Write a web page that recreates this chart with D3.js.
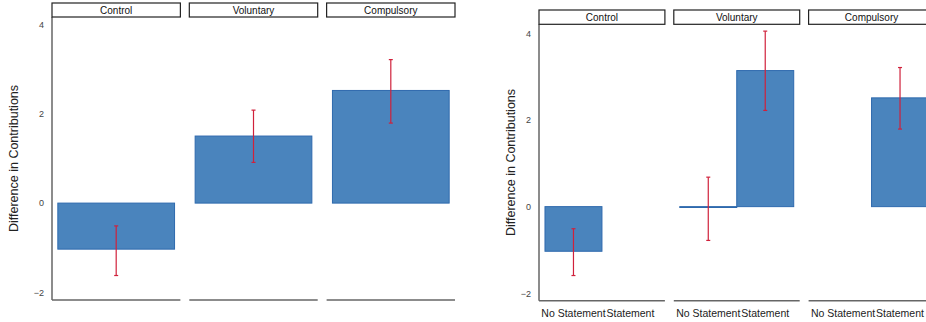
<!DOCTYPE html>
<html>
<head>
<meta charset="utf-8">
<script src="https://cdn.jsdelivr.net/npm/d3@7"></script>
<style>
  html, body { margin: 0; padding: 0; background: #fff; }
  svg { display: block; font-family: "Liberation Sans", Arial, sans-serif; }
</style>
</head>
<body>
<svg id="chart" width="926" height="322"></svg>
<script>
// ---- data ----
const facets = ["Control", "Voluntary", "Compulsory"];
const yTicks = [-2, 0, 2, 4];
const yLabel = "Difference in Contributions";

// left panel: one bar per treatment
const leftMean  = [-1.03, 1.50, 2.52];
const leftLower = [-1.62, 0.91, 1.79];
const leftUpper = [-0.51, 2.08, 3.21];

// right panel: split by statement
const statements = ["No Statement", "Statement"];
const noStmtMean  = [-1.03, -0.02, null];
const noStmtLower = [-1.59, -0.78, null];
const noStmtUpper = [-0.51,  0.68, null];
const stmtMean    = [null, 3.14, 2.51];
const stmtLower   = [null, 2.22, 1.79];
const stmtUpper   = [null, 4.05, 3.21];

const svg = d3.select("#chart");
const barFill = "#4a84bd", barStroke = "#2e69ad", errColor = "#d0213b", axisColor = "#666";

function drawPanel(cfg) {
  const g = svg.append("g");
  const fx = d3.scaleBand().domain(facets).range([cfg.left, cfg.right]).paddingInner(cfg.facetGap);
  const y = d3.scaleLinear().domain([-2, 4]).range(cfg.yRange);

  // y axis (labels only, no ticks)
  const ax = g.append("g").attr("transform", `translate(${cfg.left},0)`)
    .call(d3.axisLeft(y).tickValues(yTicks).tickSize(0).tickPadding(8).tickFormat(d3.format("d")));
  ax.select(".domain").remove();
  ax.selectAll("text").attr("font-size", 9).attr("fill", "#444").attr("font-family", "Liberation Sans, Arial, sans-serif");

  g.append("line").attr("x1", cfg.left).attr("x2", cfg.left)
    .attr("y1", cfg.plotTop).attr("y2", cfg.plotBottom)
    .attr("stroke", axisColor).attr("stroke-width", 1.5);

  // y label
  g.append("text")
    .attr("transform", `translate(${cfg.yLabelX},${(cfg.plotTop + cfg.plotBottom) / 2}) rotate(-90)`)
    .attr("text-anchor", "middle").attr("dominant-baseline", "middle")
    .attr("font-size", 12.5).attr("fill", "#222").text(yLabel);

  facets.forEach((f, i) => {
    const x0 = fx(f), bw = fx.bandwidth();
    const fg = g.append("g").attr("transform", `translate(${x0},0)`);
    // strip
    fg.append("rect").attr("x", 0).attr("y", cfg.stripTop).attr("width", bw).attr("height", cfg.stripH)
      .attr("fill", "#fff").attr("stroke", "#222").attr("stroke-width", 1.2);
    fg.append("text").attr("x", bw / 2).attr("y", cfg.stripTop + cfg.stripH / 2 + 1)
      .attr("text-anchor", "middle").attr("dominant-baseline", "middle")
      .attr("font-size", 10).attr("fill", "#111").text(f);
    // bottom line
    fg.append("line").attr("x1", 0).attr("x2", bw).attr("y1", cfg.plotBottom).attr("y2", cfg.plotBottom)
      .attr("stroke", axisColor).attr("stroke-width", 1.5);

    const xi = d3.scaleBand().domain(cfg.cats).range([0, bw]).paddingInner(0).paddingOuter(cfg.outerPad);
    const rows = cfg.cats.map((c, j) => ({ c, m: cfg.mean[j][i], lo: cfg.lower[j][i], hi: cfg.upper[j][i] }))
      .filter(d => d.m !== null);

    fg.selectAll("rect.bar").data(rows).join("rect").attr("class", "bar")
      .attr("x", d => xi(d.c)).attr("width", xi.bandwidth())
      .attr("y", d => y(Math.max(0, d.m))).attr("height", d => Math.abs(y(d.m) - y(0)))
      .attr("fill", barFill).attr("stroke", barStroke).attr("stroke-width", 1);

    const cap = 2;
    rows.forEach(d => {
      const cx = xi(d.c) + xi.bandwidth() / 2;
      fg.append("line").attr("x1", cx).attr("x2", cx).attr("y1", y(d.hi)).attr("y2", y(d.lo))
        .attr("stroke", errColor).attr("stroke-width", 1.2);
      [d.hi, d.lo].forEach(v => fg.append("line").attr("x1", cx - cap).attr("x2", cx + cap)
        .attr("y1", y(v)).attr("y2", y(v)).attr("stroke", errColor).attr("stroke-width", 1.2));
    });

    if (cfg.showX) {
      cfg.cats.forEach(c => {
        fg.append("text").attr("x", xi(c) + xi.bandwidth() / 2).attr("y", cfg.plotBottom + 16)
          .attr("text-anchor", "middle").attr("font-size", 10.5).attr("fill", "#222").text(c);
      });
    }
  });
}

drawPanel({
  left: 52, right: 455, facetGap: 0.065,
  yRange: [292.5, 24.3], plotTop: 17, plotBottom: 300,
  stripTop: 3, stripH: 14, yLabelX: 15,
  cats: ["all"], outerPad: 0.05,
  mean: [leftMean], lower: [leftLower], upper: [leftUpper], showX: false
});

drawPanel({
  left: 539, right: 934.5, facetGap: 0.066,
  yRange: [293.3, 33.3], plotTop: 24.3, plotBottom: 300.7,
  stripTop: 10, stripH: 14.3, yLabelX: 512,
  cats: statements, outerPad: 0.105,
  mean: [noStmtMean, stmtMean], lower: [noStmtLower, stmtLower], upper: [noStmtUpper, stmtUpper], showX: true
});
</script>
</body>
</html>
